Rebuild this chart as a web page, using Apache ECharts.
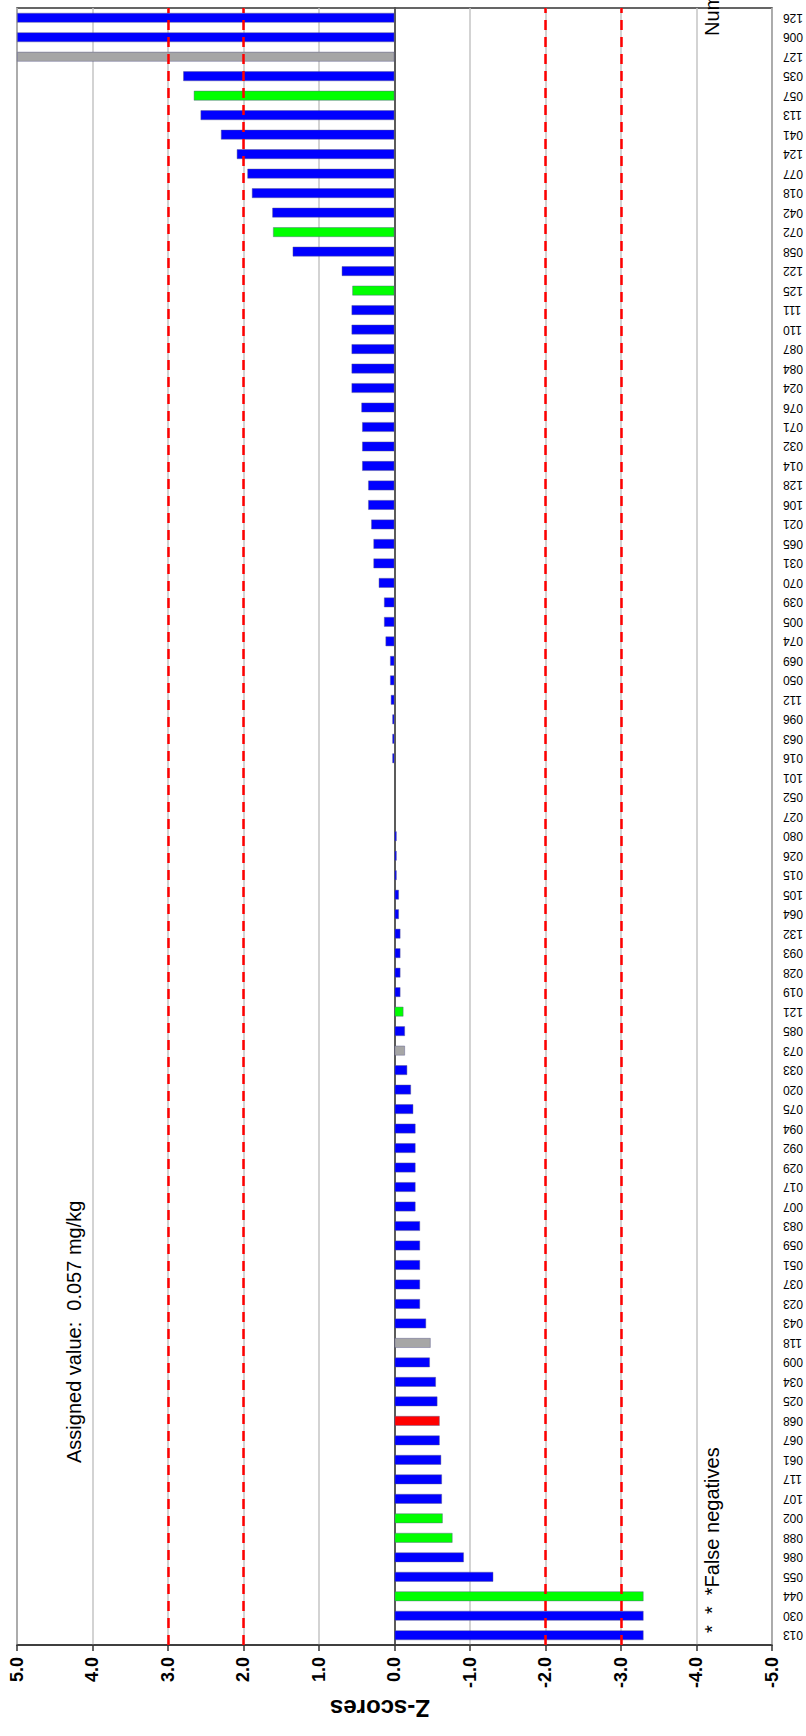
<!DOCTYPE html>
<html>
<head>
<meta charset="utf-8">
<script src="https://cdn.jsdelivr.net/npm/echarts@6/dist/echarts.min.js"></script>
<style>
html,body{margin:0;padding:0;background:#fff;overflow:hidden;width:806px;height:1736px;}
#wrap{position:absolute;left:0;top:0;width:1736px;height:806px;transform-origin:0 0;transform:translate(0,1736px) rotate(-90deg);}
#chart{width:1736px;height:806px;}
</style>
</head>
<body>
<div id="wrap"><div id="chart"></div></div>
<script>
// Laboratory codes (sorted by z-score)
const categories = ['013','030','044','055','086','088','002','107','117','061','067','068','025','034','009','118','043','023','037','051','059','083','007','017','029','092','094','075','020','033','073','085','121','019','028','093','132','064','105','015','026','080','027','052','101','016','063','096','112','050','069','074','005','039','070','031','065','021','106','128','014','032','071','076','024','084','087','110','111','125','122','058','072','042','018','077','124','041','113','057','035','127','006','126'];
// z-scores (values beyond the axis range are drawn at the limit)
const zScores = [-3.3,-3.3,-3.3,-1.31,-0.92,-0.77,-0.64,-0.63,-0.63,-0.62,-0.60,-0.60,-0.57,-0.55,-0.47,-0.48,-0.42,-0.34,-0.34,-0.34,-0.34,-0.34,-0.28,-0.28,-0.28,-0.28,-0.28,-0.25,-0.22,-0.17,-0.14,-0.14,-0.12,-0.08,-0.08,-0.08,-0.08,-0.06,-0.06,-0.03,-0.03,-0.03,null,null,null,0.03,0.03,0.03,0.05,0.06,0.06,0.12,0.14,0.14,0.21,0.28,0.28,0.31,0.35,0.35,0.43,0.43,0.43,0.44,0.57,0.57,0.57,0.57,0.57,0.56,0.70,1.35,1.61,1.62,1.89,1.95,2.09,2.30,2.57,2.66,2.80,5,5,5];
const greenLabs = ['044','088','002','121','125','072','057'];
const greyLabs = ['118','073','127'];
const redLabs = ['068'];
const limitLines = [3, 2, -2, -3];
const valueTicks = {min: -5, max: 5, interval: 1};
const axisTitle = 'Z-scores';
const assignedText = 'Assigned value:  0.057 mg/kg';
const falseNegText = '*  *  *False negatives';
const countText = 'Number of values = 64';

const FONT = '"Liberation Sans", Arial, sans-serif';
function colorFor(lab){
  if (greenLabs.includes(lab)) return '#00ff00';
  if (greyLabs.includes(lab)) return '#a6a6a6';
  if (redLabs.includes(lab)) return '#ff0000';
  return '#0000ff';
}
const chart = echarts.init(document.getElementById('chart'), null, {renderer:'svg', width:1736, height:806});
const option = {
  animation:false,
  backgroundColor:'#fff',
  grid:{left:91,right:8,top:17,bottom:33,show:true,borderColor:'#333',borderWidth:1.5,backgroundColor:'transparent'},
  xAxis:{
    type:'category', data:categories,
    axisLine:{show:true,lineStyle:{color:'#333',width:1.5}},
    axisTick:{show:false},
    axisLabel:{rotate:90,interval:0,fontSize:12,fontFamily:FONT,color:'#000',margin:11},
    splitLine:{show:false}
  },
  yAxis:{
    type:'value', min:valueTicks.min, max:valueTicks.max, interval:valueTicks.interval,
    axisLine:{show:true,lineStyle:{color:'#333',width:1.5}},
    axisTick:{show:true,length:6,lineStyle:{color:'#333',width:1.5}},
    axisLabel:{formatter:v=>v.toFixed(1),fontFamily:FONT,fontSize:18,fontWeight:'bold',color:'#000',margin:12},
    splitLine:{show:true,lineStyle:{color:'#c4c4c4',width:1.5}}
  },
  series:[{
    type:'bar',
    barWidth:10,
    data: zScores.map((v,i)=>({value:v,itemStyle:{color:colorFor(categories[i]),borderColor:'rgba(90,90,140,0.55)',borderWidth:0.8}})),
    markLine:{
      silent:true, symbol:'none', label:{show:false},
      lineStyle:{color:'#ff0000',width:2.5,type:[10,7]},
      data: limitLines.map(v=>({yAxis:v}))
    }
  }],
  graphic:[
    {type:'text', x:28, y:380, rotation:Math.PI/2, style:{text:axisTitle, font:'bold 24px '+FONT, fill:'#000', align:'center', verticalAlign:'middle'}},
    {type:'text', left:273, top:64, style:{text:assignedText, font:'20px '+FONT, fill:'#000'}},
    {type:'text', left:103, top:702, style:{text:falseNegText, font:'20px '+FONT, fill:'#000'}},
    {type:'text', left:1700, top:702, style:{text:countText, font:'20px '+FONT, fill:'#000'}}
  ]
};
chart.setOption(option);
</script>
</body>
</html>
